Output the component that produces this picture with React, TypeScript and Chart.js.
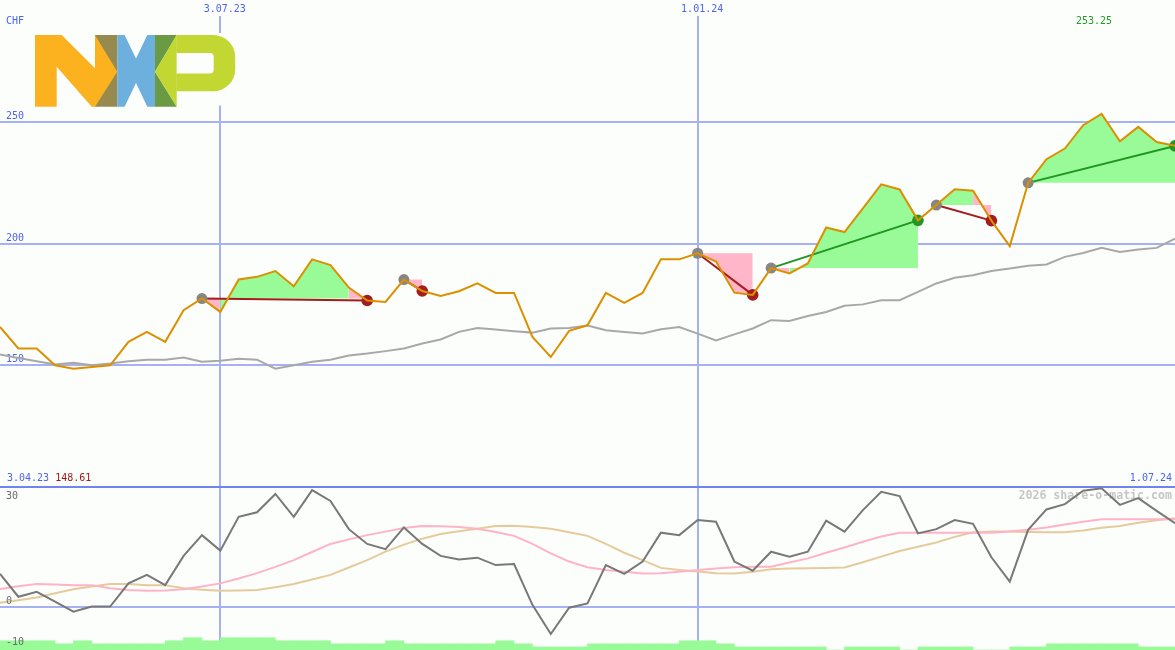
import React, { useEffect, useRef } from 'react';
import { Chart, registerables } from 'chart.js';

Chart.register(...registerables);

// ---- data (weekly closes, CHF) ----
const price = [
  165.7, 156.9, 156.9, 150.0, 148.61, 149.3, 150.0, 159.6, 163.7, 159.6,
  172.6, 177.4, 171.9, 185.2, 186.3, 188.7, 182.4, 193.5, 191.1, 181.9,
  176.6, 176.0, 185.2, 180.5, 178.5, 180.4, 183.6, 179.7, 179.7, 161.6,
  153.4, 164.1, 166.4, 179.7, 175.6, 179.7, 193.5, 193.5, 196.0, 192.6,
  179.8, 178.9, 189.9, 187.7, 191.8, 206.6, 204.7, 214.4, 224.3, 222.2,
  209.5, 215.8, 222.3, 221.7, 209.4, 198.9, 224.9, 234.6, 239.0, 248.6,
  253.25, 242.0, 247.9, 241.7, 240.1,
];

const movingAvg = [
  154.4, 153.0, 151.6, 150.3, 151.0, 150.0, 150.7, 151.6, 152.3, 152.3,
  153.2, 151.4, 151.8, 152.7, 152.3, 148.6, 150.0, 151.4, 152.3, 154.0,
  154.8, 155.8, 156.9, 158.9, 160.6, 163.7, 165.3, 164.7, 164.0, 163.4,
  165.1, 165.3, 166.3, 164.4, 163.7, 163.0, 164.8, 165.7, 163.0, 160.2,
  162.7, 165.1, 168.5, 168.2, 170.2, 171.9, 174.4, 175.0, 176.7, 176.7,
  180.1, 183.6, 185.9, 187.0, 188.7, 189.7, 190.9, 191.4, 194.5, 196.1,
  198.2, 196.5, 197.5, 198.2, 202.0,
];

const momentum = [
  9.5, 3.0, 4.4, 1.6, -1.25, 0.2, 0.2, 6.8, 9.2, 6.3,
  14.6, 20.5, 16.1, 25.7, 27.0, 32.2, 25.7, 33.3, 30.2, 22.2,
  18.0, 16.5, 22.7, 18.0, 14.6, 13.6, 14.1, 12.0, 12.3, 0.7,
  -7.6, -0.1, 1.1, 12.0, 9.5, 13.0, 21.2, 20.5, 24.8, 24.3,
  13.0, 10.4, 15.8, 14.4, 15.8, 24.6, 21.5, 27.6, 32.8, 31.6,
  21.0, 22.2, 24.8, 23.7, 14.2, 7.3, 22.0, 27.8, 29.3, 33.1,
  33.8, 29.1, 31.0, 27.4, 23.9,
];

const fastAvg = [
  5.2, 6.0, 6.6, 6.5, 6.3, 6.3, 5.4, 4.9, 4.7, 4.8,
  5.1, 5.9, 6.8, 8.2, 9.7, 11.5, 13.4, 15.7, 18.0, 19.3,
  20.5, 21.5, 22.5, 23.1, 23.0, 22.8, 22.3, 21.4, 20.3, 18.0,
  15.3, 13.0, 11.4, 10.6, 10.1, 9.6, 9.7, 10.1, 10.6, 11.0,
  11.4, 11.5, 11.5, 12.7, 13.9, 15.5, 17.0, 18.6, 20.1, 21.2,
  21.2, 21.2, 21.2, 21.2, 21.2, 21.5, 22.0, 22.7, 23.5, 24.3,
  25.0, 25.0, 25.0, 25.0, 25.0,
];

const slowAvg = [
  1.3, 2.0, 2.8, 4.0, 5.1, 5.9, 6.6, 6.6, 6.3, 6.3,
  5.4, 5.0, 4.7, 4.8, 4.9, 5.7, 6.6, 7.9, 9.2, 11.3,
  13.4, 15.8, 17.8, 19.5, 20.8, 21.6, 22.3, 23.1, 23.2, 22.8,
  22.3, 21.3, 20.3, 18.0, 15.5, 13.4, 11.2, 10.6, 10.2, 9.7,
  9.6, 10.1, 10.8, 11.0, 11.1, 11.2, 11.3, 12.8, 14.4, 16.0,
  17.2, 18.4, 20.0, 21.3, 21.5, 21.5, 21.4, 21.3, 21.3, 21.8,
  22.6, 23.1, 24.0, 24.7, 25.3,
];

// volume per week (relative level), one bar between two closes
const volumeLevel = [
  3, 3, 3, 2, 3, 2, 2, 2, 2, 3,
  4, 3, 4, 4, 4, 3, 3, 3, 2, 2,
  2, 3, 2, 2, 2, 2, 2, 3, 2, 1,
  1, 1, 2, 2, 2, 2, 2, 3, 3, 2,
  1, 1, 1, 1, 1, 0, 1, 1, 1, 0,
  1, 1, 1, 0, 0, 1, 1, 2, 2, 2,
  2, 2, 1, 1,
];

const tradeEntries = [11, 22, 38, 42, 51, 56];
const tradeExits = [20, 23, 41, 50, 54, 64];

const dateTickIndex = [12, 38];
const dateTickText = ['3.07.23', '1.01.24'];
const priceTicks = [150, 200, 250];
const oscTicks = [30, 0, -10];
const startLabel = '3.04.23';
const endLabel = '1.07.24';
const currency = 'CHF';
const watermark = '2026 share-o-matic.com';

// ---- look ----
const W = 1175;
const TOP_H = 486;
const BOTTOM_H = 164;
const BG = '#fcfefc';
const GRID = '#a5b1f3';
const SEPARATOR = '#7383ee';
const BLUE_TEXT = '#4f62f0';
const RED_TEXT = '#a01818';
const GREEN_TEXT = '#22a022';
const GRAY_TEXT = '#6a6a6a';
const FONT = '10px "DejaVu Sans Mono", monospace';

const PRICE_MIN = 100.41;
const PRICE_MAX = 293.43;
const OSC_MIN = -12.13;
const OSC_MAX = 34.46;
const VOL_MAX = 53.4;
const LAST = price.length - 1;

const pts = (arr: number[]) => arr.map((v, i) => ({ x: i, y: v }));

function drawLogo(ctx: CanvasRenderingContext2D) {
  const poly = (p: number[][], color: string) => {
    ctx.beginPath();
    ctx.moveTo(p[0][0], p[0][1]);
    for (let i = 1; i < p.length; i++) ctx.lineTo(p[i][0], p[i][1]);
    ctx.closePath();
    ctx.fillStyle = color;
    ctx.fill();
  };
  const rightRounded = (x: number, y: number, w: number, h: number, r: number, color: string) => {
    ctx.beginPath();
    ctx.moveTo(x, y);
    ctx.lineTo(x + w - r, y);
    ctx.arcTo(x + w, y, x + w, y + r, r);
    ctx.lineTo(x + w, y + h - r);
    ctx.arcTo(x + w, y + h, x + w - r, y + h, r);
    ctx.lineTo(x, y + h);
    ctx.closePath();
    ctx.fillStyle = color;
    ctx.fill();
  };
  ctx.save();
  ctx.fillStyle = BG;
  ctx.fillRect(33, 33, 205, 72.5);
  const top = 35, mid = 71.7, bot = 106.8;
  // N
  poly([[95, top], [117.3, top], [117.3, bot], [95, bot]], '#978a4f');
  poly([
    [35, top], [61.7, top], [95, 68.3], [95, top], [117.3, mid], [95, bot],
    [91.7, bot], [56.7, 66.7], [56.7, bot], [35, bot],
  ], '#fbb21e');
  // X
  poly([
    [117.3, top], [124.6, top], [136, 58.5], [147.3, top], [155, top], [155, bot],
    [147.3, bot], [136, 83], [124.6, bot], [117.3, bot],
  ], '#6db0de');
  // P
  poly([[155, top], [176.7, top], [155, mid]], '#6a9a44');
  poly([[155, mid], [155, bot], [176.7, bot]], '#6a9a44');
  poly([[176.7, top], [155, mid], [176.7, bot]], '#c2d731');
  rightRounded(176.4, top, 58.8, 56.3, 22, '#c2d731');
  rightRounded(176.7, 53, 37, 20.5, 4, BG);
  ctx.restore();
}

function topConfig(): any {
  const minVal = Math.min(...price);
  const maxVal = Math.max(...price);
  const maxIdx = price.indexOf(maxVal);

  // shaded areas between the close and the entry level of each trade
  const fills: any[] = [];
  tradeEntries.forEach((entry, t) => {
    const exit = tradeExits[t];
    const level = price[entry];
    let start = entry;
    for (let i = entry + 1; i <= exit; i++) {
      const up = price[i] >= level;
      const same = i < exit && (price[i + 1] >= level) === up;
      if (!same) {
        const seg = [];
        for (let k = start; k <= i; k++) seg.push({ x: k, y: price[k] });
        fills.push({
          data: seg,
          borderWidth: 0,
          pointRadius: 0,
          backgroundColor: up ? '#98fb98' : '#ffb6c8',
          fill: { value: level },
          order: 50,
        });
        start = i;
      }
    }
  });

  const tradeLines = tradeEntries.map((entry, t) => {
    const exit = tradeExits[t];
    const gain = price[exit] >= price[entry];
    return {
      data: [{ x: entry, y: price[entry] }, { x: exit, y: price[exit] }],
      borderColor: gain ? '#1f961f' : '#a51c1c',
      borderWidth: 2,
      pointRadius: 0,
      fill: false,
      order: 30,
    };
  });

  const labels = {
    id: 'priceLabels',
    beforeDatasetsDraw(chart: any) {
      const { ctx, scales } = chart;
      const xs = scales.x;
      const ys = scales.y;
      drawLogo(ctx);
      ctx.save();
      ctx.font = FONT;
      ctx.textBaseline = 'middle';
      ctx.fillStyle = BLUE_TEXT;
      ctx.textAlign = 'left';
      ctx.fillText(currency, 6, 21.5);
      priceTicks.forEach((v) => ctx.fillText(String(v), 6, ys.getPixelForValue(v) - 5.5));
      ctx.textAlign = 'center';
      dateTickIndex.forEach((idx, k) => ctx.fillText(dateTickText[k], xs.getPixelForValue(idx) + 4.5, 9));
      ctx.fillStyle = GREEN_TEXT;
      ctx.fillText(maxVal.toFixed(2), xs.getPixelForValue(maxIdx) - 7.5, 21.5);
      ctx.textAlign = 'left';
      ctx.fillStyle = BLUE_TEXT;
      ctx.fillText(startLabel, 7, 478.5);
      const w = ctx.measureText(startLabel + ' ').width;
      ctx.fillStyle = RED_TEXT;
      ctx.fillText(minVal.toFixed(2), 7 + w, 478.5);
      ctx.textAlign = 'right';
      ctx.fillStyle = BLUE_TEXT;
      ctx.fillText(endLabel, 1172, 478.5);
      ctx.restore();
    },
  };

  return {
    type: 'line',
    data: {
      datasets: [
        ...fills,
        { data: pts(movingAvg), borderColor: '#a8a8a8', borderWidth: 2, pointRadius: 0, fill: false, order: 40 },
        ...tradeLines,
        {
          data: tradeEntries.map((i) => ({ x: i, y: price[i] })),
          showLine: false,
          pointRadius: 5.5,
          pointBorderWidth: 0,
          pointBackgroundColor: '#868686',
          order: 20,
        },
        {
          data: tradeExits.map((i) => ({ x: i, y: price[i] })),
          showLine: false,
          pointRadius: 5.8,
          pointBorderWidth: 0,
          pointBackgroundColor: tradeExits.map((ex, t) => (price[ex] >= price[tradeEntries[t]] ? '#239623' : '#a31d1d')),
          order: 20,
        },
        { data: pts(price), borderColor: '#dc9000', borderWidth: 2, pointRadius: 0, fill: false, order: 10 },
      ],
    },
    options: {
      animation: false,
      responsive: false,
      devicePixelRatio: 1,
      events: [],
      layout: { autoPadding: false, padding: { top: 16, left: 0, right: 0, bottom: 0 } },
      plugins: { legend: { display: false }, tooltip: { enabled: false } },
      scales: {
        x: {
          type: 'linear',
          min: 0,
          max: LAST,
          ticks: { display: false },
          grid: { color: GRID, lineWidth: 2, drawTicks: false },
          border: { display: false },
          afterBuildTicks: (s: any) => { s.ticks = dateTickIndex.map((v) => ({ value: v })); },
        },
        y: {
          type: 'linear',
          min: PRICE_MIN,
          max: PRICE_MAX,
          ticks: { display: false },
          grid: { color: GRID, lineWidth: 2, drawTicks: false },
          border: { display: false },
          afterBuildTicks: (s: any) => { s.ticks = priceTicks.map((v) => ({ value: v })); },
        },
      },
    },
    plugins: [labels],
  };
}

function bottomConfig(): any {
  const labels = {
    id: 'oscLabels',
    beforeDatasetsDraw(chart: any) {
      const { ctx } = chart;
      ctx.save();
      ctx.fillStyle = SEPARATOR;
      ctx.fillRect(0, 0, W, 2);
      ctx.font = 'bold 11.6px "DejaVu Sans Mono", monospace';
      ctx.fillStyle = '#c6c6c6';
      ctx.textAlign = 'right';
      ctx.textBaseline = 'middle';
      ctx.fillText(watermark, 1172, 10);
      ctx.restore();
    },
    afterDatasetsDraw(chart: any) {
      const { ctx, scales } = chart;
      const ys = scales.y;
      ctx.save();
      ctx.font = FONT;
      ctx.textBaseline = 'middle';
      ctx.textAlign = 'left';
      ctx.fillStyle = GRAY_TEXT;
      oscTicks.forEach((v, k) => {
        // the lowest label sits on the bottom edge of the panel
        const y = k === oscTicks.length - 1 ? BOTTOM_H - 8 : ys.getPixelForValue(v) - 5.5;
        ctx.fillText(String(v), 6, y);
      });
      ctx.restore();
    },
  };

  return {
    type: 'line',
    data: {
      datasets: [
        {
          type: 'bar',
          yAxisID: 'yv',
          data: volumeLevel.map((v, k) => ({ x: k + 0.5, y: v })),
          backgroundColor: '#98fb98',
          borderWidth: 0,
          barPercentage: 1,
          categoryPercentage: 1,
          order: 50,
        },
        { data: pts(slowAvg), borderColor: '#e5cb9b', borderWidth: 2, pointRadius: 0, fill: false, order: 30 },
        { data: pts(fastAvg), borderColor: '#ffb3c6', borderWidth: 2, pointRadius: 0, fill: false, order: 20 },
        { data: pts(momentum), borderColor: '#787878', borderWidth: 2, pointRadius: 0, fill: false, order: 10 },
      ],
    },
    options: {
      animation: false,
      responsive: false,
      devicePixelRatio: 1,
      events: [],
      layout: { autoPadding: false, padding: 0 },
      plugins: { legend: { display: false }, tooltip: { enabled: false } },
      scales: {
        x: {
          type: 'linear',
          min: 0,
          max: LAST,
          offset: false,
          ticks: { display: false },
          grid: { color: GRID, lineWidth: 2, drawTicks: false, offset: false },
          border: { display: false },
          afterBuildTicks: (s: any) => { s.ticks = dateTickIndex.map((v) => ({ value: v })); },
        },
        y: {
          type: 'linear',
          min: OSC_MIN,
          max: OSC_MAX,
          ticks: { display: false },
          grid: { color: GRID, lineWidth: 2, drawTicks: false },
          border: { display: false },
          afterBuildTicks: (s: any) => { s.ticks = [{ value: 0 }]; },
        },
        yv: {
          type: 'linear',
          display: false,
          min: 0,
          max: VOL_MAX,
        },
      },
    },
    plugins: [labels],
  };
}

export default function App() {
  const topRef = useRef<HTMLCanvasElement>(null);
  const bottomRef = useRef<HTMLCanvasElement>(null);

  useEffect(() => {
    const upper = new Chart(topRef.current as HTMLCanvasElement, topConfig());
    const lower = new Chart(bottomRef.current as HTMLCanvasElement, bottomConfig());
    return () => {
      upper.destroy();
      lower.destroy();
    };
  }, []);

  return (
    <div style={{ position: 'fixed', left: 0, top: 0, width: W, height: TOP_H + BOTTOM_H, background: BG, overflow: 'hidden' }}>
      <canvas
        ref={topRef}
        width={W}
        height={TOP_H}
        style={{ position: 'absolute', left: 0, top: 0, width: W, height: TOP_H, display: 'block' }}
      />
      <canvas
        ref={bottomRef}
        width={W}
        height={BOTTOM_H}
        style={{ position: 'absolute', left: 0, top: TOP_H, width: W, height: BOTTOM_H, display: 'block' }}
      />
    </div>
  );
}
